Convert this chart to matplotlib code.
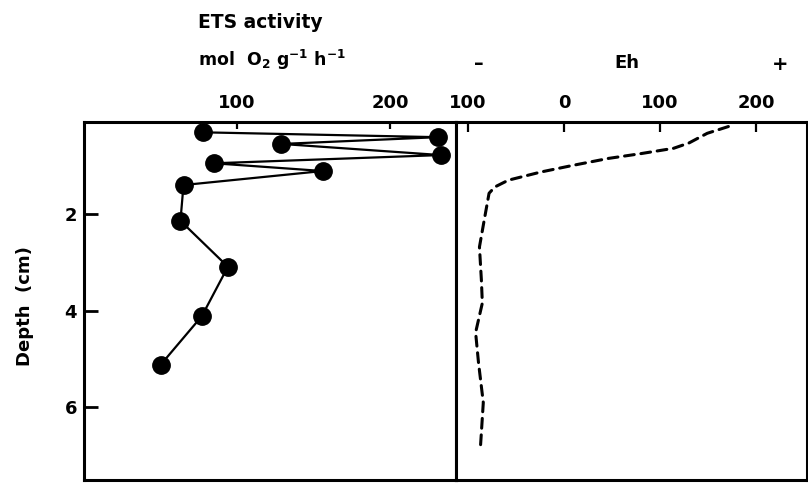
import matplotlib
matplotlib.use("Agg")
import matplotlib.pyplot as plt

# ETS activity profile (mol O2 g-1 h-1) vs depth (cm)
ets_depth = [0.31, 0.41, 0.55, 0.78, 0.95, 1.11, 1.40, 2.14, 3.09, 4.11, 5.12]
ets_value = [78, 231, 129, 233, 85, 156, 65, 63, 94, 77, 50]

# Eh profile (mV) vs depth (cm)
eh_depth = [0.19, 0.33, 0.53, 0.64, 0.75, 0.85, 0.99, 1.13, 1.30, 1.44, 1.57,
            2.12, 2.68, 3.36, 3.84, 4.45, 5.07, 5.90, 6.83]
eh_value = [171, 149, 130, 114, 80, 46, 10, -24, -58, -72, -78,
            -83, -88, -86, -85, -92, -89, -84, -87]

ets_ticks = [100, 200]
ets_ticklabels = ["100", "200"]
eh_ticks = [-100, 0, 100, 200]
eh_ticklabels = ["100", "0", "100", "200"]
depth_ticks = [2, 4, 6]

plt.rcParams['font.family'] = ['DejaVu Sans']
plt.rcParams['font.weight'] = 'bold'

fig = plt.figure(figsize=(8.08, 4.84), dpi=100)
W, H = 808, 484

def frac(x0, x1, ytop, ybot):
    return [x0 / W, 1 - ybot / H, (x1 - x0) / W, (ybot - ytop) / H]

ax1 = fig.add_axes(frac(84, 456, 121.7, 480))
ax2 = fig.add_axes(frac(456, 807, 121.7, 480))

spine_lw = 2.2
for ax in (ax1, ax2):
    for s in ax.spines.values():
        s.set_linewidth(spine_lw)
    ax.set_ylim(7.5, 0.09)
    ax.xaxis.set_ticks_position('top')
    ax.xaxis.set_label_position('top')

# left panel
ax1.plot(ets_value, ets_depth, color='black', lw=1.6, marker='o',
         markersize=12.5, markerfacecolor='black', markeredgecolor='black',
         clip_on=False, zorder=3)
ax1.set_xlim(0, 243)
ax1.set_xticks(ets_ticks)
ax1.set_xticklabels(ets_ticklabels)
ax1.tick_params(axis='x', direction='in', length=5, width=1.6, pad=7,
                labelsize=13)
ax1.set_yticks(depth_ticks)
ax1.set_yticklabels([str(d) for d in depth_ticks])
ax1.tick_params(axis='y', direction='in', length=10, width=2.0, pad=5,
                labelsize=13)
ax1.set_ylabel("Depth  (cm)", fontsize=13, fontweight='bold')
ax1.yaxis.set_label_coords(-0.135, 0.485)

# right panel
ax2.plot(eh_value, eh_depth, color='black', lw=2.2, linestyle=(0, (3.2, 2.2)),
         dash_capstyle='round')
ax2.set_xlim(-112.4, 252.8)
ax2.set_xticks(eh_ticks)
ax2.set_xticklabels(eh_ticklabels)
ax2.tick_params(axis='x', direction='in', length=7, width=1.6, pad=7,
                labelsize=13)
ax2.set_yticks([])

# header texts
fig.text(198 / W, 1 - 22 / H, "ETS activity", fontsize=13.5, fontweight='bold',
         ha='left', va='center')
fig.text(198 / W, 1 - 60 / H, "mol  O$_\\mathbf{2}$ g$^{\\mathbf{-1}}$ h$^{\\mathbf{-1}}$",
         fontsize=12.5, fontweight='bold', ha='left', va='center')
fig.text(479 / W, 1 - 63 / H, "\u2013", fontsize=14, fontweight='bold',
         ha='center', va='center')
fig.text(627 / W, 1 - 63 / H, "Eh", fontsize=13, fontweight='bold',
         ha='center', va='center')
fig.text(780 / W, 1 - 64 / H, "+", fontsize=14, fontweight='bold',
         ha='center', va='center')

fig.savefig("out.png", dpi=100)
